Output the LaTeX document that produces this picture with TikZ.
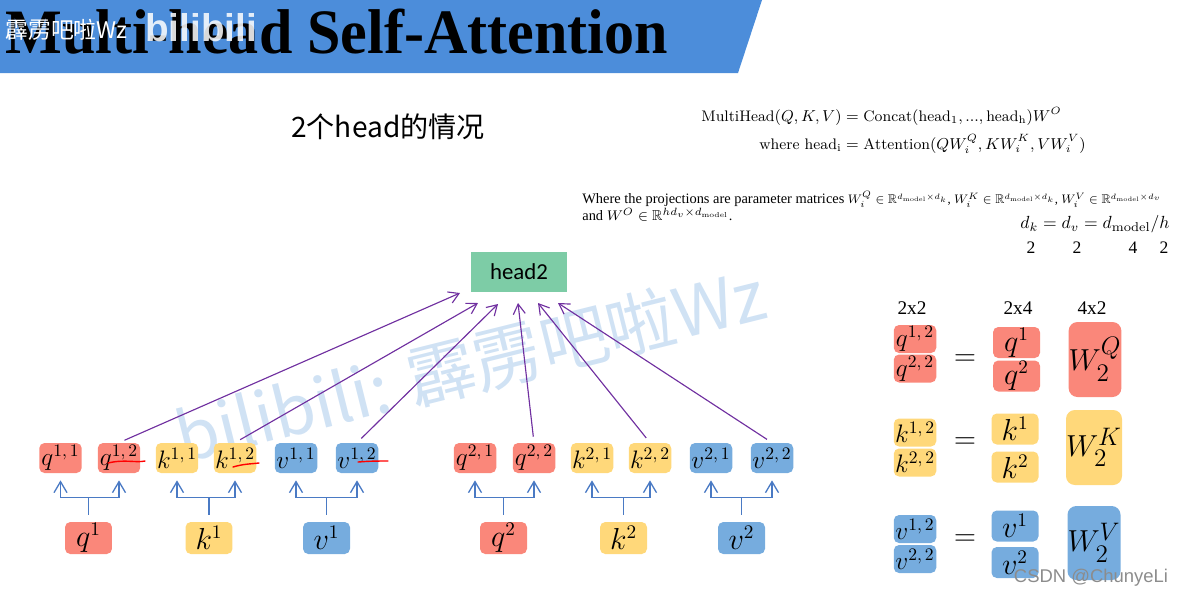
\documentclass[tikz,border=0pt]{standalone}
\usepackage{amsmath,amssymb}
\usepackage{fontspec}
\usepackage{xcolor}
\usetikzlibrary{arrows.meta}
\newfontfamily\cjkfont{Noto Sans CJK SC}
\newfontfamily\timesfont{Liberation Serif}
\newfontfamily\calibfont{Carlito}
\newfontfamily\arialfont{Liberation Sans}

\definecolor{qred}{RGB}{250,135,122}
\definecolor{kyel}{RGB}{255,216,122}
\definecolor{vblue}{RGB}{118,172,222}
\definecolor{hgreen}{RGB}{125,204,166}
\definecolor{titleblue}{RGB}{76,141,218}
\definecolor{treeblue}{RGB}{74,122,196}
\definecolor{arrpurple}{RGB}{112,48,160}
\definecolor{wmblue}{RGB}{208,226,244}

\newcommand{\dimsup}[2]{^{\scriptscriptstyle #1\times #2}}

\tikzset{
  partbox/.style={rounded corners=3pt, inner sep=0pt, minimum width=0.85cm, minimum height=0.6cm, font=\fontsize{14}{14}\selectfont},
  srcbox/.style={rounded corners=3pt, inner sep=0pt, minimum width=0.94cm, minimum height=0.64cm, font=\fontsize{16}{16}\selectfont},
  tree/.style={treeblue, line width=0.75pt, -{Straight Barb[length=2.2mm,width=2.6mm]}, shorten <=0.14cm, shorten >=0.14cm},
  tohead/.style={arrpurple, line width=0.65pt, -{Straight Barb[length=2mm,width=2.4mm]}, shorten <=0.12cm},
  scribble/.style={red, line width=0.8pt, line cap=round},
}

\begin{document}
\begin{tikzpicture}[x=0.02cm,y=-0.02cm]
\useasboundingbox (0,0) rectangle (1182,600);

% watermark
\node[rotate=14, text=wmblue, font=\cjkfont\fontsize{39}{39}\selectfont] (wm) at (470,365) {bilibili: 霹雳吧啦Wz};

% title bar
\fill[titleblue] (0,0) -- (762,0) -- (738,73) -- (0,73) -- cycle;
\node[anchor=base west, inner sep=0pt, font=\timesfont\bfseries\fontsize{36}{40}\selectfont] (title) at (5,53) {\scalebox{0.95}[1]{Multi-head Self-Attention}};
\node[anchor=west, inner sep=0pt, text=white, font=\cjkfont\fontsize{13}{13}\selectfont] (wmtop) at (5,30) {霹雳吧啦Wz};
\node[anchor=west, inner sep=0pt, text=white, opacity=0.85, font=\arialfont\bfseries\fontsize{22}{22}\selectfont] (logo) at (145,28) {bilibili};

\node[font=\cjkfont\fontsize{16}{16}\selectfont] (sub) at (388,127) {2个head的情况};

% formulas
\node[anchor=west, inner sep=0pt, font=\fontsize{8.7}{11}\selectfont] (mh) at (701,131) {$\begin{aligned}
 \mathrm{MultiHead}(Q,K,V) &= \mathrm{Concat}(\mathrm{head_1},...,\mathrm{head_h})W^O\\
 \text{where}\ \mathrm{head_i} &= \mathrm{Attention}(QW^Q_i,KW^K_i,VW^V_i)
\end{aligned}$};
\node[anchor=north west, inner sep=0pt, align=left, font=\timesfont\fontsize{8.2}{9.6}\selectfont] (proj) at (582,191) {Where the projections are parameter matrices \scalebox{0.88}{$W_i^Q\in\mathbb{R}\dimsup{d_{\mathrm{model}}}{d_k}$, $W_i^K\in\mathbb{R}\dimsup{d_{\mathrm{model}}}{d_k}$, $W_i^V\in\mathbb{R}\dimsup{d_{\mathrm{model}}}{d_v}$}\\
and $W^O\in\mathbb{R}^{hd_v\times d_{\mathrm{model}}}$.};
\node[font=\fontsize{10.4}{12}\selectfont] (dk) at (1095,224) {$d_k=d_v=d_{\mathrm{model}}/h$};
\foreach \x/\n in {1031/2,1077/2,1133/4,1164/2}
  \node[font=\timesfont\fontsize{10}{10}\selectfont] at (\x,248) {\n};

% head
\node[fill=hgreen, minimum width=1.92cm, minimum height=0.8cm, inner sep=0pt, font=\calibfont\fontsize{13}{13}\selectfont] (head) at (519,272) {head2};

% split parts
\node[partbox, fill=qred] (q11) at (60.5,458) {$q^{1,\,1}$};
\node[partbox, fill=qred] (q12) at (119,458) {$q^{1,\,2}$};
\node[partbox, fill=kyel] (k11) at (177,458) {$k^{1,\,1}$};
\node[partbox, fill=kyel] (k12) at (235,458) {$k^{1,\,2}$};
\node[partbox, fill=vblue] (v11) at (296,458) {$v^{1,\,1}$};
\node[partbox, fill=vblue] (v12) at (357,458) {$v^{1,\,2}$};
\node[partbox, fill=qred] (q21) at (475,458) {$q^{2,\,1}$};
\node[partbox, fill=qred] (q22) at (534,458) {$q^{2,\,2}$};
\node[partbox, fill=kyel] (k21) at (592,458) {$k^{2,\,1}$};
\node[partbox, fill=kyel] (k22) at (650,458) {$k^{2,\,2}$};
\node[partbox, fill=vblue] (v21) at (711,458) {$v^{2,\,1}$};
\node[partbox, fill=vblue] (v22) at (772,458) {$v^{2,\,2}$};

% sources
\node[srcbox, fill=qred] (q1) at (88.5,538) {$q^1$};
\node[srcbox, fill=kyel] (k1) at (209,538) {$k^1$};
\node[srcbox, fill=vblue] (v1) at (326.5,538) {$v^1$};
\node[srcbox, fill=qred] (q2) at (503.5,538) {$q^2$};
\node[srcbox, fill=kyel] (k2) at (623.5,538) {$k^2$};
\node[srcbox, fill=vblue] (v2) at (741.5,538) {$v^2$};

\foreach \s/\a/\b in {q1/q11/q12,k1/k11/k12,v1/v11/v12,q2/q21/q22,k2/k21/k22,v2/v21/v22}{
  \draw[tree] (\s.north) -- ++(0,-24) -| (\a.south);
  \draw[tree] (\s.north) -- ++(0,-24) -| (\b.south);}

% into head2
\coordinate (e1) at (460,293);
\coordinate (e2) at (478,303);
\coordinate (e3) at (498,304);
\coordinate (e4) at (518,303);
\coordinate (e5) at (538,303);
\coordinate (e6) at (558,303);
\draw[tohead] (q12.north) -- (e1);
\draw[tohead] (k12.north) -- (e2);
\draw[tohead] (v12.north) -- (e3);
\draw[tohead] (q22.north) -- (e4);
\draw[tohead] (k22.north) -- (e5);
\draw[tohead] (v22.north) -- (e6);

% pen marks
\draw[scribble] (108,463) .. controls (125,459) and (135,463) .. (145,461);
\draw[scribble] (233,467) .. controls (243,464) and (250,464) .. (259,463);
\draw[scribble] (358,462) .. controls (370,461) and (378,461) .. (388,461);

% right side
\node[font=\timesfont\fontsize{11}{11}\selectfont] (s1) at (912,308) {2x2};
\node[font=\timesfont\fontsize{11}{11}\selectfont] (s2) at (1018,308) {2x4};
\node[font=\timesfont\fontsize{11}{11}\selectfont] (s3) at (1092,308) {4x2};

\node[partbox, fill=qred, minimum height=0.56cm] (rq1) at (915,339) {$q^{1,\,2}$};
\node[partbox, fill=qred, minimum height=0.56cm] (rq2) at (915,368.5) {$q^{2,\,2}$};
\node[partbox, fill=kyel, minimum height=0.56cm] (rk1) at (915,432.5) {$k^{1,\,2}$};
\node[partbox, fill=kyel, minimum height=0.56cm] (rk2) at (915,462.5) {$k^{2,\,2}$};
\node[partbox, fill=vblue, minimum height=0.56cm] (rv1) at (915,529) {$v^{1,\,2}$};
\node[partbox, fill=vblue, minimum height=0.56cm] (rv2) at (915,559) {$v^{2,\,2}$};

\foreach \y/\n in {360/eqq,443/eqk,540/eqv}
  \node[font=\fontsize{16}{16}\selectfont] (\n) at (965,\y) {$=$};

\node[srcbox, fill=qred, minimum height=0.62cm] (mq1) at (1016.5,342.5) {$q^1$};
\node[srcbox, fill=qred, minimum height=0.62cm] (mq2) at (1016.5,376) {$q^2$};
\node[srcbox, fill=kyel, minimum height=0.62cm] (mk1) at (1015,429) {$k^1$};
\node[srcbox, fill=kyel, minimum height=0.62cm] (mk2) at (1015,467) {$k^2$};
\node[srcbox, fill=vblue, minimum height=0.62cm] (mv1) at (1015,526) {$v^1$};
\node[srcbox, fill=vblue, minimum height=0.62cm] (mv2) at (1015,562.5) {$v^2$};

\node[rounded corners=5pt, fill=qred, minimum width=1.04cm, minimum height=1.5cm, inner sep=0pt, font=\fontsize{19}{19}\selectfont] (wq) at (1095,359.5) {$W_2^Q$};
\node[rounded corners=5pt, fill=kyel, minimum width=1.04cm, minimum height=1.5cm, inner sep=0pt, font=\fontsize{19}{19}\selectfont] (wk) at (1094,447.5) {$W_2^K$};
\node[rounded corners=5pt, fill=vblue, minimum width=1.04cm, minimum height=1.48cm, inner sep=0pt, font=\fontsize{19}{19}\selectfont] (wv) at (1094,543) {$W_2^V$};

\node[text=black!45, font=\arialfont\fontsize{10.5}{10.5}\selectfont] (csdn) at (1091,578) {CSDN @ChunyeLi};
\end{tikzpicture}
\end{document}
